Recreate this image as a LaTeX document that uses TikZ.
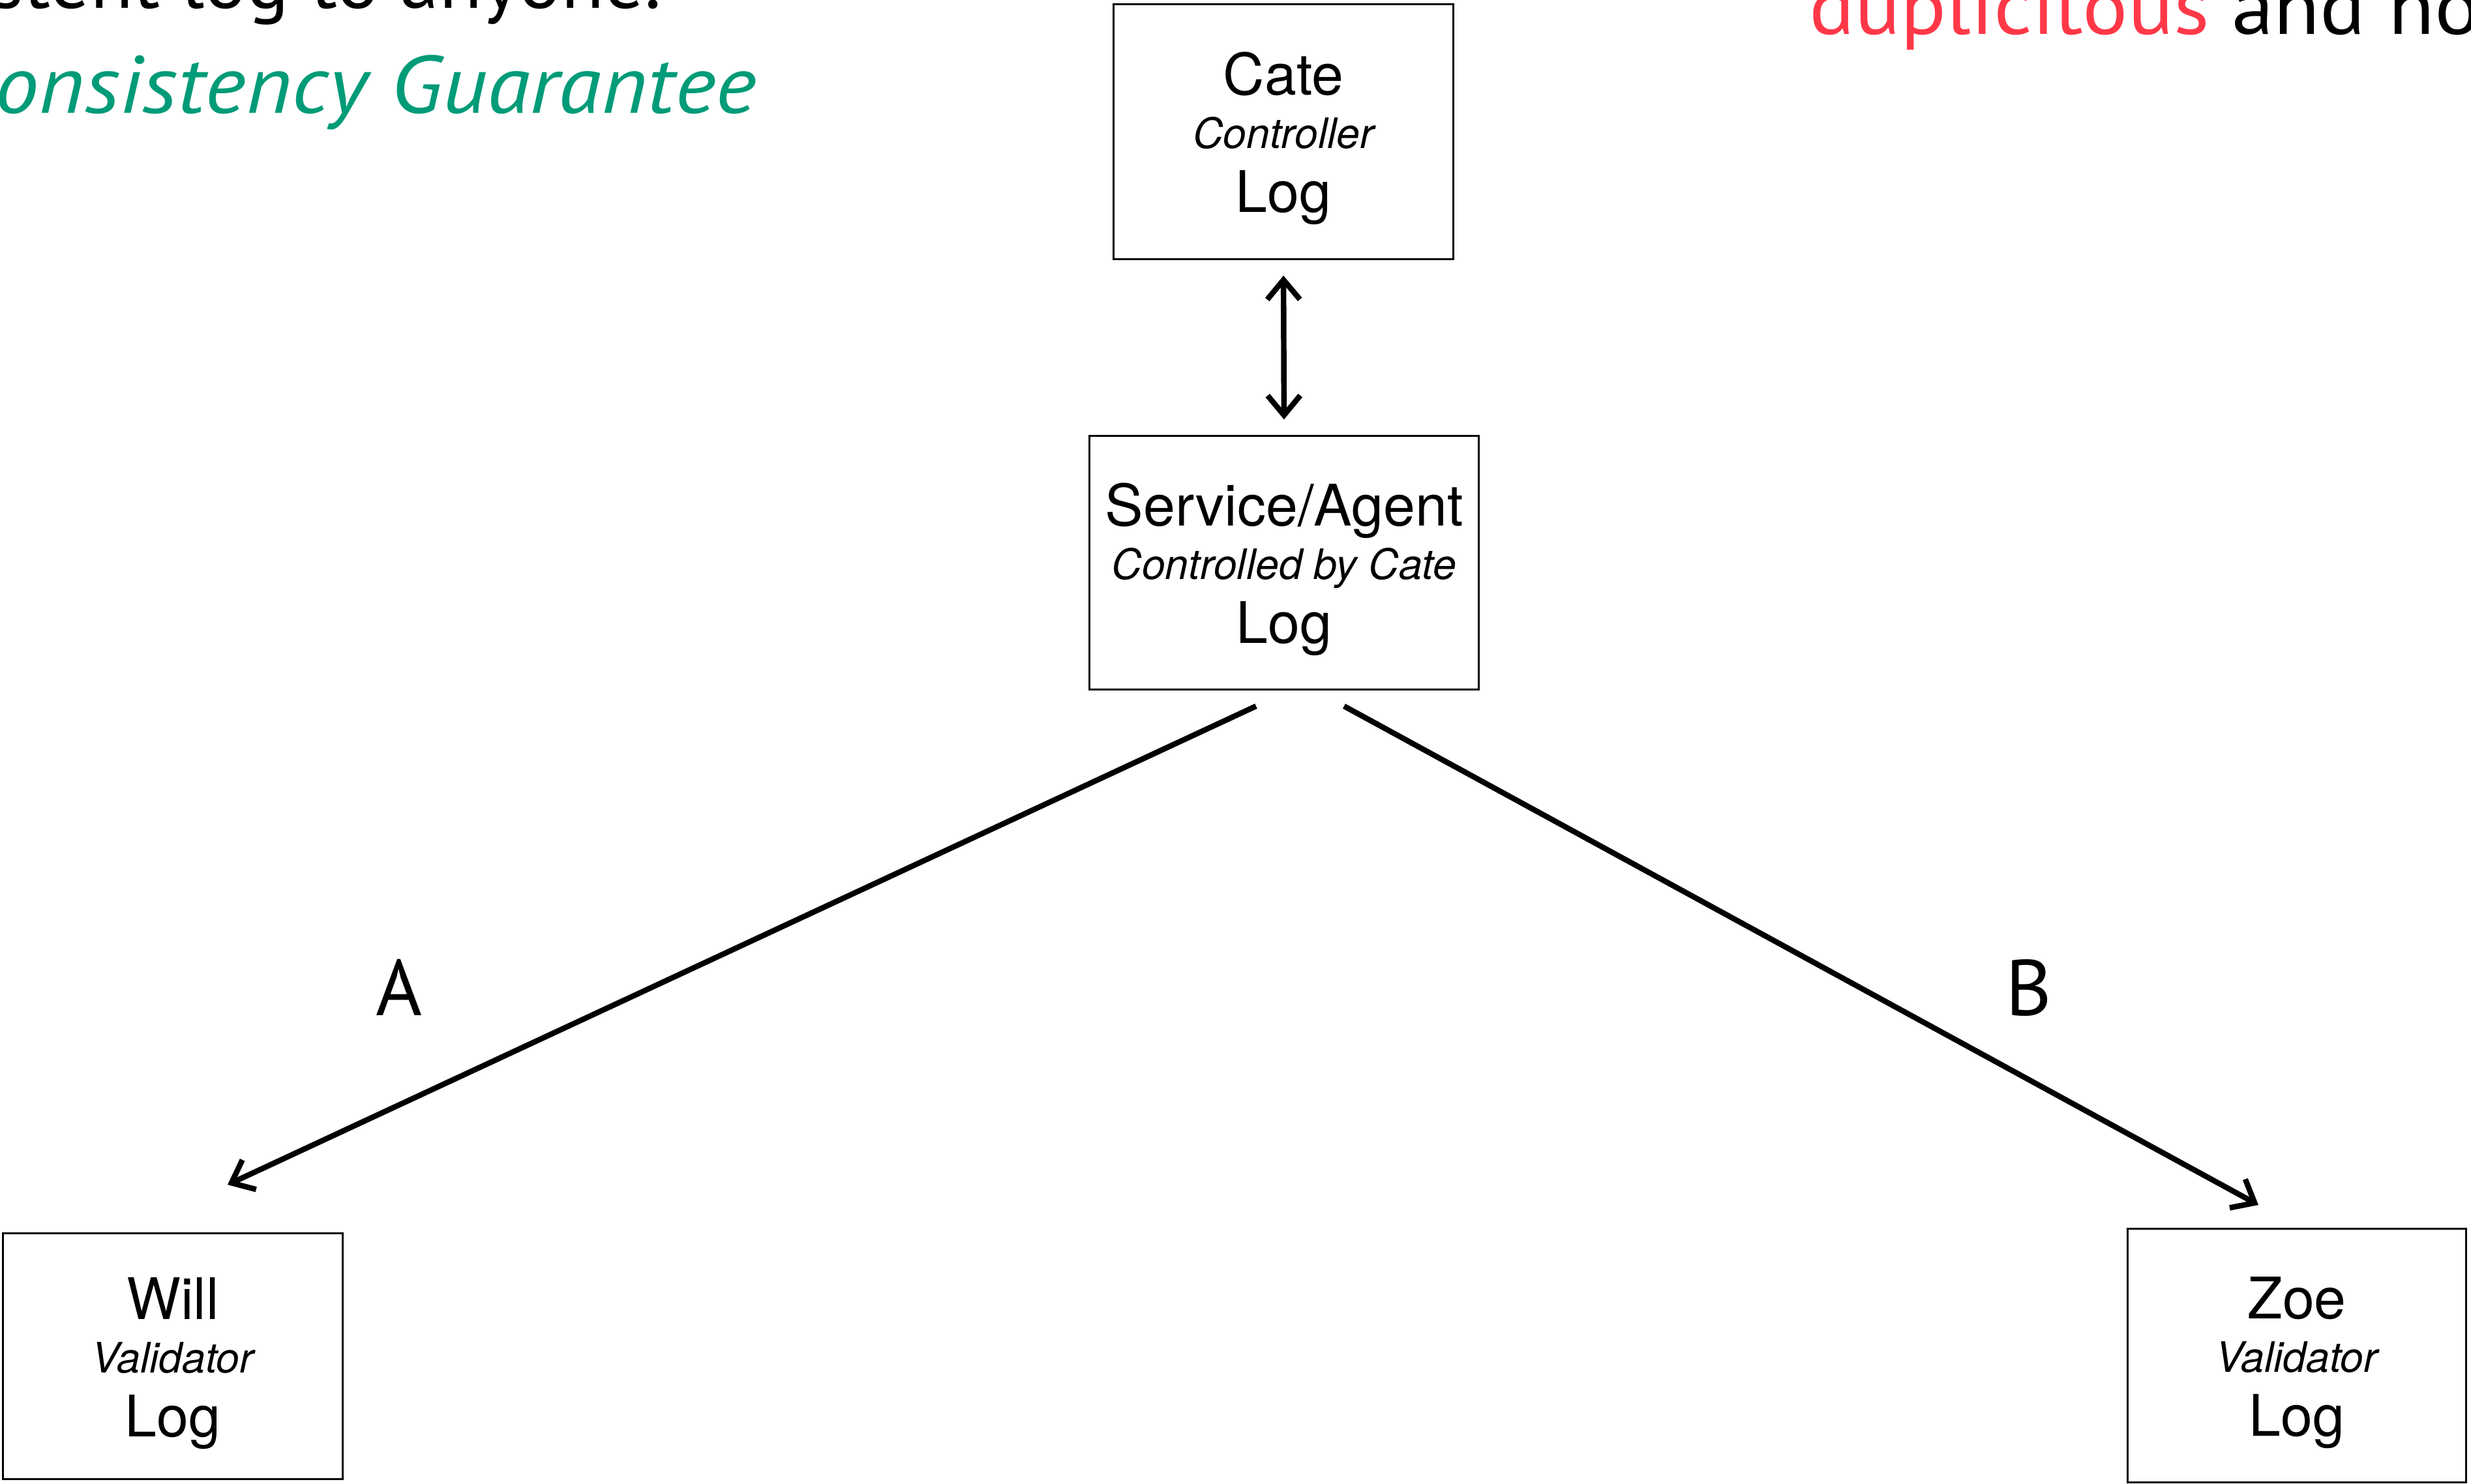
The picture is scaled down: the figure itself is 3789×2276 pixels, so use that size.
\documentclass[tikz,border=0pt]{standalone}
\usepackage{fontspec}
\setmainfont{TeX Gyre Heros}
\newfontfamily\myr{PT Sans}
\usetikzlibrary{arrows.meta,calc}
\definecolor{grn}{RGB}{0,155,120}
\definecolor{redd}{RGB}{255,56,72}
\tikzset{
  boxnode/.style={draw, line width=0.9pt, inner sep=0pt},
  bigtxt/.style={font=\fontsize{25}{30}\selectfont, inner sep=0pt, anchor=base},
  smalltxt/.style={font=\fontsize{18.3}{22}\selectfont\itshape, inner sep=0pt, anchor=base},
  toptxt/.style={font=\myr\fontsize{34.5}{40}\selectfont, inner sep=0pt, anchor=base west},
  lbl/.style={font=\myr\fontsize{34.5}{40}\selectfont, inner sep=0pt, anchor=base},
  tipA/.tip={Straight Barb[length=0.3cm, width=0.5cm]},
  conn/.style={line width=2.4pt, -tipA},
  dconn/.style={line width=2.4pt, tipA-tipA},
}
\newcommand{\tripleline}[3]{%
  \node[bigtxt] (#1-a) at ([yshift=0.56cm]#1.center) {#2};
  \node[smalltxt] (#1-b) at ([yshift=-0.25cm]#1.center) {#3};
  \node[bigtxt] (#1-c) at ([yshift=-1.23cm]#1.center) {Log};
}
\begin{document}
\begin{tikzpicture}[x=0.01cm,y=-0.01cm]
\clip (0,0) rectangle (3789,2276);
\fill[white] (0,0) rectangle (3789,2276);

% top texts (clipped at the page edge)
\node[toptxt] (t1) at (-15,13) {stent log to anyone.};
\node[toptxt, text=grn, font=\myr\fontsize{35.5}{40}\selectfont\itshape, xscale=1.08] (t2) at (-8,174) {onsistency Guarantee};
\node[toptxt, xscale=1.07] (t3) at (2774,53) {\textcolor{redd}{duplicitous} and no};

% boxes
\node[boxnode, minimum width=5.2cm, minimum height=3.9cm] (cate) at (1968,202) {};
\node[boxnode, minimum width=5.96cm, minimum height=3.88cm] (svc) at (1969,863) {};
\node[boxnode, minimum width=5.2cm, minimum height=3.76cm] (will) at (265,2080) {};
\node[boxnode, minimum width=5.19cm, minimum height=3.89cm] (zoe) at (3522,2079) {};

\tripleline{cate}{Cate}{Controller}
\tripleline{svc}{Service/Agent}{Controlled by Cate}
\tripleline{will}{Will}{Validator}
\tripleline{zoe}{Zoe}{Validator}

% connectors
\draw[dconn, shorten <=0.24cm, shorten >=0.24cm] (cate.south) -- (svc.north);
\coordinate (aS) at (1926,1083);
\coordinate (aE) at (349,1817);
\coordinate (bS) at (2061,1083);
\coordinate (bE) at (3463,1848);
\draw[conn] (aS) -- (aE);
\draw[conn] (bS) -- (bE);

\node[lbl] (la) at (612,1557) {A};
\node[lbl] (lb) at (3111,1557) {B};
\end{tikzpicture}
\end{document}
